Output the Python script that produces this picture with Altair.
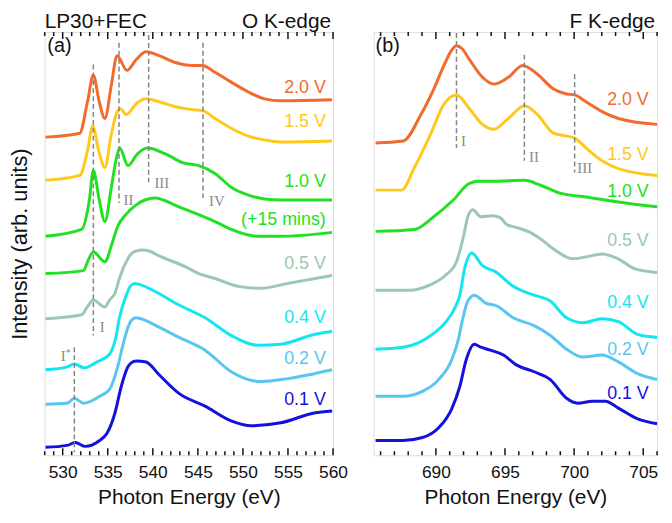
import altair as alt
import pandas as pd

# ---------------- O K-edge (panel a) ----------------
o20_e = [528.1, 531.9, 532.75, 533.4, 534.06, 534.68, 535.4, 536.03, 537.13, 538.16, 539.25, 540.7, 542.5, 544.4, 545.5, 546.9, 548.7, 550.6, 552.4, 554.2, 559.9]
o20_i = [324, 328, 360, 387, 360, 343, 377, 407, 392, 403, 411, 407, 400, 397, 397, 390, 380, 370, 363, 361, 362]
o15_e = [528.1, 531.9, 532.75, 533.33, 534.0, 534.68, 535.4, 535.97, 536.4, 537.06, 538.16, 539.25, 540.7, 542.5, 544.4, 545.5, 546.9, 548.7, 550.6, 552.4, 554.2, 559.9]
o15_i = [280, 285, 310, 335, 310, 293, 327, 348, 353, 347, 358, 363, 360, 355, 352, 351, 343, 333, 325, 321, 319, 320]
o10_e = [528.1, 532.1, 532.96, 533.4, 534.06, 534.68, 535.4, 535.97, 536.33, 537.24, 538.3, 539.4, 541.4, 543.3, 545.1, 546.9, 548.7, 550.6, 552.4, 554.2, 559.9]
o10_i = [223, 230, 260, 290, 260, 238, 273, 303, 313, 295, 307, 313, 307, 298, 295, 287, 273, 265, 261, 260, 260]
o15m_e = [528.1, 532.3, 532.8, 533.4, 534.68, 535.45, 536.1, 537.0, 538.16, 540.2, 542.9, 545.1, 546.9, 548.7, 551.7, 554.2, 559.9]
o15m_i = [185, 188, 198, 207, 197, 215, 233, 245, 255, 262, 253, 245, 238, 230, 223, 223, 227]
o05_e = [528.1, 532.1, 532.8, 533.4, 534.68, 535.2, 535.8, 536.3, 536.7, 537.06, 537.5, 538.16, 538.9, 539.6, 540.7, 543.6, 545.1, 546.9, 549.5, 552.0, 555.0, 559.9]
o05_i = [139, 143, 152, 158, 151, 158, 165, 180, 190, 197, 204, 208, 209, 208, 203, 192, 185, 180, 172, 170, 175, 183]
o04_e = [528.1, 530.5, 531.29, 532.4, 533.8, 535.2, 535.9, 536.3, 537.06, 537.5, 538.0, 538.5, 540.0, 542.9, 545.8, 548.7, 551.7, 554.2, 557.9, 559.9]
o04_i = [87, 90, 93, 89, 95, 103, 120, 140, 163, 172, 175, 174, 168, 153, 140, 122, 112, 113, 123, 126]
o02_e = [528.1, 530.5, 531.29, 532.3, 534.1, 535.2, 536.1, 536.7, 537.24, 537.6, 538.16, 538.7, 540.35, 542.9, 545.8, 548.7, 552.0, 555.0, 559.9]
o02_i = [52, 53, 58, 53, 60, 67, 90, 113, 130, 137, 140, 139, 132, 120, 107, 85, 75, 78, 87]
o01_e = [528.1, 530.5, 531.4, 532.5, 534.1, 534.9, 535.8, 536.5, 537.24, 537.6, 538.16, 539.25, 540.7, 542.9, 545.8, 548.7, 550.9, 554.2, 557.9, 559.9]
o01_i = [8, 10, 13, 9, 15, 22, 43, 70, 90, 94, 96, 95, 82, 63, 50, 35, 30, 33, 43, 45]

# ---------------- F K-edge (panel b) ----------------
f20_e = [685.64, 687.63, 688.92, 689.85, 690.68, 691.12, 691.49, 691.9, 692.43, 693.37, 694.19, 695.24, 696.29, 697.35, 698.51, 699.45, 700.04, 700.86, 702.02, 703.2, 706.0]
f20_i = [318, 320, 347, 373, 400, 412, 417, 414, 403, 385, 378, 385, 397, 388, 373, 368, 367, 360, 350, 343, 337]
f15_e = [685.64, 687.52, 688.45, 689.62, 690.56, 691.49, 692.43, 693.37, 694.19, 695.24, 696.41, 697.35, 698.51, 699.45, 700.04, 700.86, 702.02, 703.2, 706.0]
f15_i = [270, 270, 293, 327, 357, 367, 353, 337, 332, 343, 356, 347, 328, 325, 323, 313, 300, 292, 285]
f10_e = [685.64, 688.45, 689.85, 691.26, 692.43, 693.13, 694.3, 696.41, 697.58, 698.98, 700.86, 703.2, 706.0]
f10_i = [228, 230, 243, 260, 277, 279, 279, 280, 275, 267, 263, 258, 253]
f05_e = [685.64, 688.1, 689.5, 690.68, 691.49, 692.0, 692.31, 692.66, 693.25, 694.07, 694.65, 695.12, 695.82, 696.95, 697.7, 698.51, 699.92, 700.86, 702.02, 703.2, 704.37, 706.0]
f05_i = [168, 168, 173, 183, 197, 223, 243, 250, 243, 244, 242, 235, 232, 226, 219, 210, 200, 202, 205, 200, 190, 186]
f04_e = [685.64, 687.63, 688.8, 689.73, 690.68, 691.38, 691.73, 692.08, 692.59, 693.37, 694.3, 695.59, 697.11, 698.28, 699.45, 700.62, 702.02, 703.2, 704.6, 706.0]
f04_i = [108, 110, 115, 123, 135, 150, 163, 190, 206, 193, 187, 172, 163, 157, 140, 135, 139, 136, 123, 120]
f02_e = [685.64, 687.63, 689.03, 690.2, 691.14, 691.61, 691.96, 692.31, 692.78, 693.6, 694.42, 695.59, 697.11, 698.28, 699.45, 700.62, 702.02, 703.2, 704.6, 706.0]
f02_i = [60, 60, 65, 77, 97, 117, 140, 157, 163, 155, 152, 140, 132, 122, 108, 100, 102, 95, 83, 77]
f01_e = [685.64, 687.63, 689.03, 690.2, 691.14, 691.73, 692.19, 692.78, 693.25, 693.95, 694.89, 695.82, 697.11, 698.28, 699.45, 700.27, 701.32, 702.26, 703.2, 704.6, 706.0]
f01_i = [15, 15, 18, 28, 47, 70, 97, 113, 110, 107, 102, 92, 85, 77, 58, 53, 55, 55, 48, 37, 32]

# series names / colours
o_names = ["2.0 V", "1.5 V", "1.0 V", "(+15 mins)", "0.5 V", "0.4 V", "0.2 V", "0.1 V"]
o_colors = ["#F26A2C", "#FFC81C", "#22E022", "#22E022", "#9CC8B2", "#12E6F0", "#58C6F0", "#1212DC"]
f_names = ["2.0 V", "1.5 V", "1.0 V", "0.5 V", "0.4 V", "0.2 V", "0.1 V"]
f_colors = ["#F26A2C", "#FFC81C", "#22E022", "#9CC8B2", "#12E6F0", "#58C6F0", "#1212DC"]

# label anchors (data units)
o_lab_e = 559.2
o_lab_i = [369, 334, 273, 234, 190, 135, 93, 51]
f_lab_e = 705.4
f_lab_i = [357, 301, 263, 213, 150, 102, 57]

# peak marker lines (energy, from, to) and numerals
o_mark_e = [531.29, 533.4, 536.25, 539.54, 545.57]
o_mark_top = [110, 398, 420, 428, 420]
o_mark_bot = [3, 122, 257, 278, 262]
o_num_txt = ["I", "I", "II", "III", "IV"]
o_num_e = [530.05, 534.4, 537.3, 541.0, 547.1]
o_num_i = [96, 125, 255, 272, 254]
f_mark_e = [691.49, 696.4, 700.04]
f_mark_top = [430, 408, 388]
f_mark_bot = [313, 300, 288]
f_num_txt = ["I", "II", "III"]
f_num_e = [692.0, 697.1, 700.77]
f_num_i = [315, 299, 287]

o_major = [530, 535, 540, 545, 550, 555, 560]
o_minor = [v for v in range(528, 561) if v % 5 != 0]
f_major = [690, 695, 700, 705]
f_minor = [v for v in range(686, 707) if v % 5 != 0]

H = 427
FONT = "Liberation Sans"


def make_panel(W, names, colors, es, iss, dom, major, minor, lab_e, lab_i,
               mark_e, mark_top, mark_bot, num_txt, num_e, num_i,
               letter, letter_e, left_title, right_title, star=None, ytitle=True):
    rows = []
    for k, (n, e, i) in enumerate(zip(names, es, iss)):
        for a, b in zip(e, i):
            rows.append({"E": a, "I": b, "series": n, "k": k})
    df = pd.DataFrame(rows)
    cscale = alt.Scale(domain=names, range=colors)
    xs = alt.Scale(domain=dom, nice=False, zero=False)
    ys = alt.Scale(domain=[0, 431], nice=False, zero=False)
    xax = alt.Axis(values=major, ticks=False, tickSize=0, domain=False, grid=False,
                   labelFontSize=17.5, labelFont=FONT, labelColor="#111", labelPadding=9,
                   labelFlush=False, labelOverlap=False,
                   title="Photon Energy (eV)", titleFontSize=21, titleFont=FONT,
                   titleFontWeight="normal", titleColor="#111", titlePadding=5, format="d")
    if ytitle:
        yax = alt.Axis(labels=False, ticks=False, domain=False, grid=False,
                       title="Intensity (arb. units)", titleFontSize=22, titleFont=FONT,
                       titleFontWeight="normal", titleColor="#111", titlePadding=13)
    else:
        yax = None

    def X(f):
        return alt.X(f, type="quantitative", scale=xs, axis=xax)

    def Y(f):
        return alt.Y(f, type="quantitative", scale=ys, axis=yax)

    lines = alt.Chart(df).mark_line(strokeWidth=3, interpolate="monotone").encode(
        x=X("E"), y=Y("I"),
        color=alt.Color("series:N", scale=cscale, legend=None),
        detail="k:N", order="E:Q")

    mk = pd.DataFrame({"E": mark_e, "I": mark_top, "I2": mark_bot})
    marks = alt.Chart(mk).mark_rule(color="#858585", strokeWidth=1.5, strokeDash=[5, 3]).encode(
        x=X("E"), y=Y("I"), y2="I2:Q")

    nm = pd.DataFrame({"E": num_e, "I": num_i, "t": num_txt})
    nums = alt.Chart(nm).mark_text(font="Liberation Serif", fontSize=15, color="#8a8a8a",
                                   align="center", baseline="alphabetic").encode(
        x=X("E"), y=Y("I"), text="t:N")

    lb = pd.DataFrame({"E": [lab_e] * len(names), "I": lab_i, "series": names})
    labels = alt.Chart(lb).mark_text(font=FONT, fontSize=18, align="right",
                                     baseline="alphabetic").encode(
        x=X("E"), y=Y("I"), text="series:N",
        color=alt.Color("series:N", scale=cscale, legend=None))

    let = alt.Chart(pd.DataFrame({"E": [letter_e], "I": [411], "t": [letter]})).mark_text(
        font=FONT, fontSize=20, align="left", baseline="alphabetic", color="#111").encode(
        x=X("E"), y=Y("I"), text="t:N")

    tl = alt.Chart(pd.DataFrame({"t": [left_title]})).mark_text(
        font=FONT, fontSize=21, align="left", baseline="alphabetic", color="#111").encode(
        x=alt.value(0), y=alt.value(-4), text="t:N")
    tr = alt.Chart(pd.DataFrame({"t": [right_title]})).mark_text(
        font=FONT, fontSize=21, align="right", baseline="alphabetic", color="#111").encode(
        x=alt.value(W - 2), y=alt.value(-4), text="t:N")

    maj = pd.DataFrame({"v": major})
    mnr = pd.DataFrame({"v": minor})
    tick_layers = []
    for d, ln in ((maj, 7), (mnr, 4)):
        tick_layers.append(alt.Chart(d).mark_rule(color="#111", strokeWidth=1.5).encode(
            x=X("v"), y=alt.value(H), y2=alt.value(H - ln)))
        tick_layers.append(alt.Chart(d).mark_rule(color="#111", strokeWidth=1.5).encode(
            x=X("v"), y=alt.value(0), y2=alt.value(ln)))

    layers = [lines, marks, nums, labels, let] + tick_layers
    if left_title:
        layers.append(tl)
    layers.append(tr)
    if star is not None:
        st = alt.Chart(pd.DataFrame({"E": [star[0]], "I": [star[1]], "t": ["*"]})).mark_text(
            font="Liberation Serif", fontSize=10, color="#8a8a8a", align="left",
            baseline="alphabetic").encode(x=X("E"), y=Y("I"), text="t:N")
        layers.append(st)
    return alt.layer(*layers).properties(width=W, height=H)


left = make_panel(291, o_names, o_colors,
                  [o20_e, o15_e, o10_e, o15m_e, o05_e, o04_e, o02_e, o01_e],
                  [o20_i, o15_i, o10_i, o15m_i, o05_i, o04_i, o02_i, o01_i],
                  [528, 560], o_major, o_minor, o_lab_e, o_lab_i,
                  o_mark_e, o_mark_top, o_mark_bot, o_num_txt, o_num_e, o_num_i,
                  "(a)", 528.3, "LP30+FEC", "O K-edge", star=(530.35, 101), ytitle=True)
right = make_panel(286, f_names, f_colors,
                   [f20_e, f15_e, f10_e, f05_e, f04_e, f02_e, f01_e],
                   [f20_i, f15_i, f10_i, f05_i, f04_i, f02_i, f01_i],
                   [685.5, 706], f_major, f_minor, f_lab_e, f_lab_i,
                   f_mark_e, f_mark_top, f_mark_bot, f_num_txt, f_num_e, f_num_i,
                   "(b)", 685.64, "", "F K-edge", ytitle=False)

chart = alt.hconcat(left, right, spacing=41, bounds="flush").configure_view(
    stroke="#111", strokeWidth=2).configure(font=FONT, padding=0)

chart.save("out.html", embed_options={"renderer": "svg", "actions": False})
